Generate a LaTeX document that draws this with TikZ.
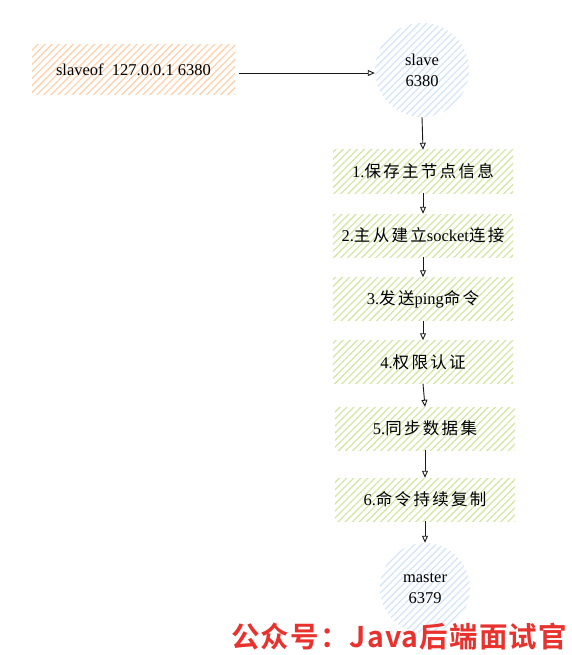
\documentclass[tikz,border=0pt]{standalone}
\usepackage{fontspec}
\setmainfont{Liberation Serif}
\newfontfamily\cjk[LetterSpace=14]{Noto Sans CJK SC}
\newfontfamily\cjkb[LetterSpace=4]{Noto Sans CJK SC Bold}
\usetikzlibrary{patterns.meta,arrows.meta}
\definecolor{orhatch}{HTML}{FFD2AE}
\definecolor{grhatch}{HTML}{D3E8A6}
\definecolor{blhatch}{HTML}{D4E6F8}
\definecolor{wmred}{HTML}{E8322E}
\tikzset{
  hatchbox/.style={rectangle, draw=none, inner sep=0pt,
    font=\fontsize{16.5}{19}\selectfont},
  orangebox/.style={hatchbox, pattern={Lines[angle=45,distance=5pt,line width=1.3pt]}, pattern color=orhatch},
  stepbox/.style={hatchbox, minimum width=180pt, minimum height=43pt,
    pattern={Lines[angle=45,distance=5pt,line width=1.3pt]}, pattern color=grhatch},
  redis/.style={circle, draw=none, align=center, inner sep=0pt,
    font=\fontsize{16.5}{21}\selectfont,
    pattern={Lines[angle=45,distance=5pt,line width=1.3pt]}, pattern color=blhatch},
  conn/.style={draw=black!90, line width=0.9pt, -{Triangle[open,length=7pt,width=6pt]}},
}
\begin{document}
\begin{tikzpicture}[x=1pt,y=-1pt]
\useasboundingbox (0,0) rectangle (571,655);
\node[orangebox, minimum width=203pt, minimum height=50pt] (cmd) at (133.5,70) {slaveof\ \ 127.0.0.1 6380};
\node[redis, minimum size=94pt] (slave) at (422,70) {slave\\6380};
\node[stepbox] (s1) at (423,171.5) {1.{\cjk 保存主节点信息}};
\node[stepbox] (s2) at (423,235.5) {2.{\cjk 主从建立}socket{\cjk 连接}};
\node[stepbox] (s3) at (423,299) {3.{\cjk 发送}ping{\cjk 命令}};
\node[stepbox] (s4) at (423,362) {4.{\cjk 权限认证}};
\node[stepbox] (s5) at (425,428.5) {5.{\cjk 同步数据集}};
\node[stepbox] (s6) at (425,499.5) {6.{\cjk 命令持续复制}};
\node[redis, minimum size=90pt] (master) at (425,588) {master\\6379};
\draw[conn] (cmd.east) ++(3,3) coordinate (c0) -- (c0 -| slave.west);
\draw[conn] (slave.south) -- (s1.north);
\draw[conn] (s1.south) -- (s2.north);
\draw[conn] (s2.south) -- (s3.north);
\draw[conn] (s3.south) -- (s4.north);
\draw[conn] (s4.south) -- (s5.north);
\draw[conn] (s5.south) -- (s6.north);
\draw[conn] (s6.south) -- (master.north);
\node[anchor=west, inner sep=0pt, text=wmred, font=\cjkb\fontsize{28.5}{30}\selectfont] (wm) at (231,637) {公众号：Java后端面试官};
\end{tikzpicture}
\end{document}
